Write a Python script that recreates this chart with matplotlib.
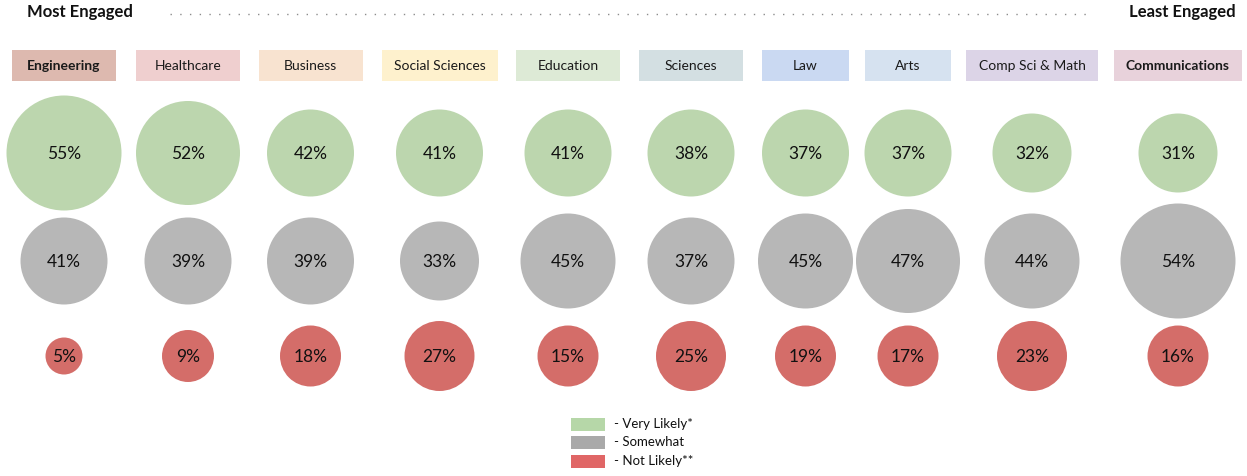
import numpy as np
import matplotlib.pyplot as plt
from matplotlib.patches import Circle, Rectangle

plt.rcParams['font.family'] = ['Lato', 'DejaVu Sans']

majors = ['Engineering', 'Healthcare', 'Business', 'Social Sciences', 'Education',
          'Sciences', 'Law', 'Arts', 'Comp Sci & Math', 'Communications']
very_likely = [55, 52, 42, 41, 41, 38, 37, 37, 32, 31]
somewhat = [41, 39, 39, 33, 45, 37, 45, 47, 44, 54]
not_likely = [5, 9, 18, 27, 15, 25, 19, 17, 23, 16]
legend_labels = ['- Very Likely*', '- Somewhat', '- Not Likely**']

# header box fills, one per major
box_colors = ['#DDB9AF', '#EFCFCF', '#F8E3D0', '#FEF1CD', '#DDEAD6',
              '#D3DFE2', '#CAD9F2', '#D6E2F0', '#DCD4E7', '#E8D2DB']
bold_boxes = {'Engineering', 'Communications'}

# layout in pixel units (axes spans the whole canvas, y grows downward)
W, H = 1247, 476
col_x = [64, 188, 310.5, 439.5, 568, 691, 805.5, 908, 1032, 1178]
box_w = [104, 104, 104, 116, 104, 104, 87, 86, 132, 128]
row_y = [153, 261, 356]
row_colors = ['#BCD6AE', '#B7B7B7', '#D46D69']
legend_colors = ['#B6D7A8', '#A9A9A9', '#E06666']

# stepped size scale used for the bubbles (diameter in px)
size_bins = [0, 9, 15, 23, 31, 37, 44, 47, 54]
size_px = [37, 52, 61, 70, 79, 87, 95, 104, 115]


def diameter(v):
    return size_px[np.searchsorted(size_bins, v, side='right') - 1]


fig = plt.figure(figsize=(W / 100, H / 100), dpi=100)
ax = fig.add_axes([0, 0, 1, 1])
ax.set_xlim(0, W)
ax.set_ylim(H, 0)
ax.axis('off')

# top banner
ax.text(27, 12, 'Most Engaged', fontsize=12, fontweight='bold',
        ha='left', va='center', color='#111111')
ax.text(1236, 12, 'Least Engaged', fontsize=12, fontweight='bold',
        ha='right', va='center', color='#111111')
ax.plot([170, 1088], [14, 14], linestyle=(0, (1, 6)), color='#8C8C8C', lw=1)

# category header boxes
for name, x, w, c in zip(majors, col_x, box_w, box_colors):
    ax.add_patch(Rectangle((x - w / 2, 50), w, 31, facecolor=c, edgecolor='none'))
    ax.text(x, 66, name, fontsize=10, ha='center', va='center', color='#1a1a1a',
            fontweight='bold' if name in bold_boxes else 'normal')

# bubbles
for values, y, c in zip([very_likely, somewhat, not_likely], row_y, row_colors):
    for x, v in zip(col_x, values):
        ax.add_patch(Circle((x, y), diameter(v) / 2, facecolor=c, edgecolor='none'))
        ax.text(x, y + 1, f'{v}%', fontsize=12.5, ha='center', va='center',
                color='#111111')

# legend
for i, (lab, c) in enumerate(zip(legend_labels, legend_colors)):
    y = 424 + i * 18.5
    ax.add_patch(Rectangle((571, y - 6.5), 34, 13, facecolor=c, edgecolor='none'))
    ax.text(614, y, lab, fontsize=9.5, ha='left', va='center', color='#111111')

fig.savefig('out.png', dpi=100)
